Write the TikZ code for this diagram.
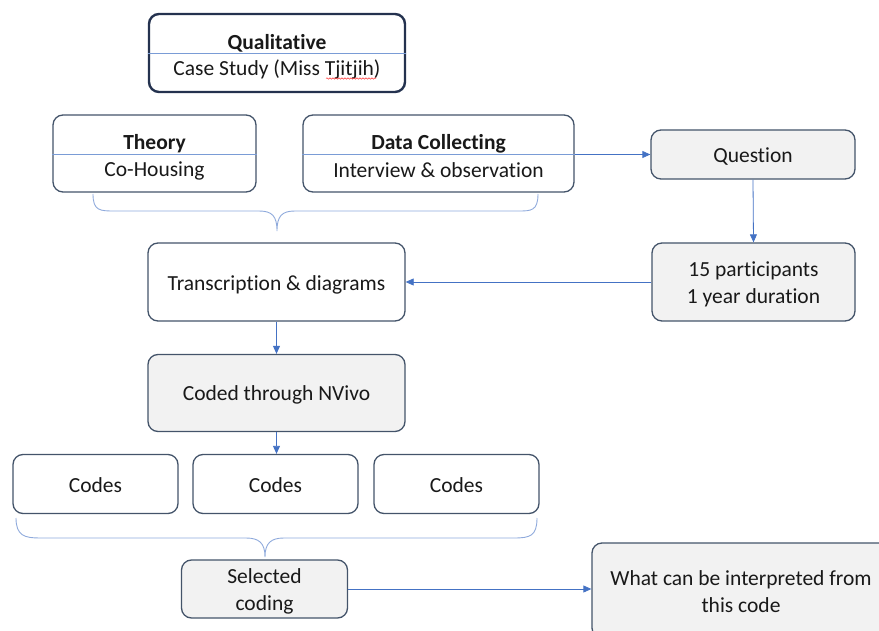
\documentclass[tikz,border=0pt]{standalone}
\usepackage{fontspec}
\setmainfont[Ligatures=NoCommon]{Carlito}
\usetikzlibrary{arrows.meta,decorations.pathmorphing}
\definecolor{boxline}{HTML}{44546A}
\definecolor{qualline}{HTML}{24324F}
\definecolor{arrowblue}{HTML}{4472C4}
\definecolor{bracecol}{HTML}{8FAADC}
\definecolor{divcol}{HTML}{7A9CD6}
\definecolor{boxfill}{HTML}{F2F2F2}
\begin{document}
\begin{tikzpicture}[x=1pt,y=-1pt,
  txt/.style={font=\fontsize{21.5}{27}\selectfont, inner sep=0pt, align=center, text=black!90, yshift=-1.5pt},
  bold/.style={font=\fontsize{21.5}{27}\selectfont\bfseries},
  bx/.style={draw=boxline, line width=1.3pt, rounded corners=10pt, inner sep=0pt, fill=white},
  gbx/.style={bx, fill=boxfill},
  arr/.style={draw=arrowblue, line width=0.8pt, -{Triangle[length=8pt,width=7pt]}},
  brc/.style={draw=bracecol, line width=0.9pt},
  dv/.style={draw=divcol, line width=0.8pt}]
\useasboundingbox (0,0) rectangle (879,631);
\clip (0,0) rectangle (879,631);
% Qualitative
\node[bx, draw=qualline, line width=2.4pt, minimum width=256pt, minimum height=78pt] (qual) at (277,53) {};
\draw[dv] (qual.west |- 0,53) -- (qual.east |- 0,53);
\node[txt, bold] (qualt) at (277,42) {Qualitative};
\node[txt] (quals) at (277,68) {Case Study (Miss Tjitjih)};
\draw[red!80, line width=0.5pt, decorate, decoration={snake, amplitude=0.7pt, segment length=3pt}] (326,78.5) -- (376,78.5);
% Theory
\node[bx, minimum width=203pt, minimum height=77pt] (theo) at (154.5,153.5) {};
\draw[dv] (theo.west |- 0,154) -- (theo.east |- 0,154);
\node[txt, bold] (theot) at (154.5,142) {Theory};
\node[txt] (theos) at (154.5,169) {Co-Housing};
% Data collecting
\node[bx, minimum width=271pt, minimum height=77pt] (data) at (438.5,153.5) {};
\draw[dv] (data.west |- 0,154) -- (data.east |- 0,154);
\node[txt, bold] (datat) at (438.5,142) {Data Collecting};
\node[txt] (datas) at (438.5,169) {Interview \& observation};
% Question
\node[gbx, minimum width=204pt, minimum height=49pt] (ques) at (753,154.5) {};
\node[txt] (quest) at (753,155) {Question};
% Participants
\node[gbx, minimum width=203pt, minimum height=78pt] (part) at (753.5,282) {};
\node[txt] (partt) at (753.5,282.5) {15 participants\\1 year duration};
% Transcription
\node[bx, minimum width=257pt, minimum height=78pt] (tran) at (276.5,282) {};
\node[txt] (trant) at (276.5,283) {Transcription \& diagrams};
% Coded
\node[gbx, minimum width=257pt, minimum height=77pt] (code) at (276.5,393) {};
\node[txt] (codet) at (276.5,393) {Coded through NVivo};
% Codes
\node[bx, minimum width=165pt, minimum height=59pt] (c1) at (95.5,484) {};
\node[txt] (c1t) at (95.5,484) {Codes};
\node[bx, minimum width=165pt, minimum height=59pt] (c2) at (275.5,484) {};
\node[txt] (c2t) at (275.5,484) {Codes};
\node[bx, minimum width=165pt, minimum height=59pt] (c3) at (456.5,484) {};
\node[txt] (c3t) at (456.5,484) {Codes};
% Selected coding
\node[gbx, minimum width=166pt, minimum height=58pt] (sel) at (264.5,589) {};
\node[txt] (selt) at (264.5,590) {Selected\\coding};
% What can be
\node[gbx, minimum width=298pt, minimum height=95pt] (what) at (741,590.5) {};
\node[txt] (whatt) at (741,590.5) {What can be interpreted from\\this code};
% braces
\coordinate (b1l) at (93,194);
\coordinate (b1r) at (538,194);
\coordinate (b1t) at (277,231);
\draw[brc] (b1l) .. controls (93,211) and (100,211) .. (115,211) -- (259,211) .. controls (272,211) and (277,216) .. (b1t)
  .. controls (277,216) and (282,211) .. (295,211) -- (518,211) .. controls (531,211) and (538,211) .. (b1r);
\coordinate (b2l) at (16,518);
\coordinate (b2r) at (537,518);
\coordinate (b2t) at (265,557);
\draw[brc] (b2l) .. controls (16,536) and (25,538) .. (40,538) -- (246,538) .. controls (259,538) and (265,543) .. (b2t)
  .. controls (265,543) and (271,538) .. (284,538) -- (514,538) .. controls (530,538) and (537,536) .. (b2r);
% arrows
\draw[arr] (data.east |- ques.west) -- (ques.west);
\draw[arr] (ques.south) -- (part.north);
\draw[arr] (part.west) -- (tran.east);
\draw[arr] (tran.south) -- (code.north);
\draw[arr] (code.south) -- (c2.north -| code.south);
\draw[arr] (sel.east) -- (sel.east -| what.west);
\end{tikzpicture}
\end{document}
